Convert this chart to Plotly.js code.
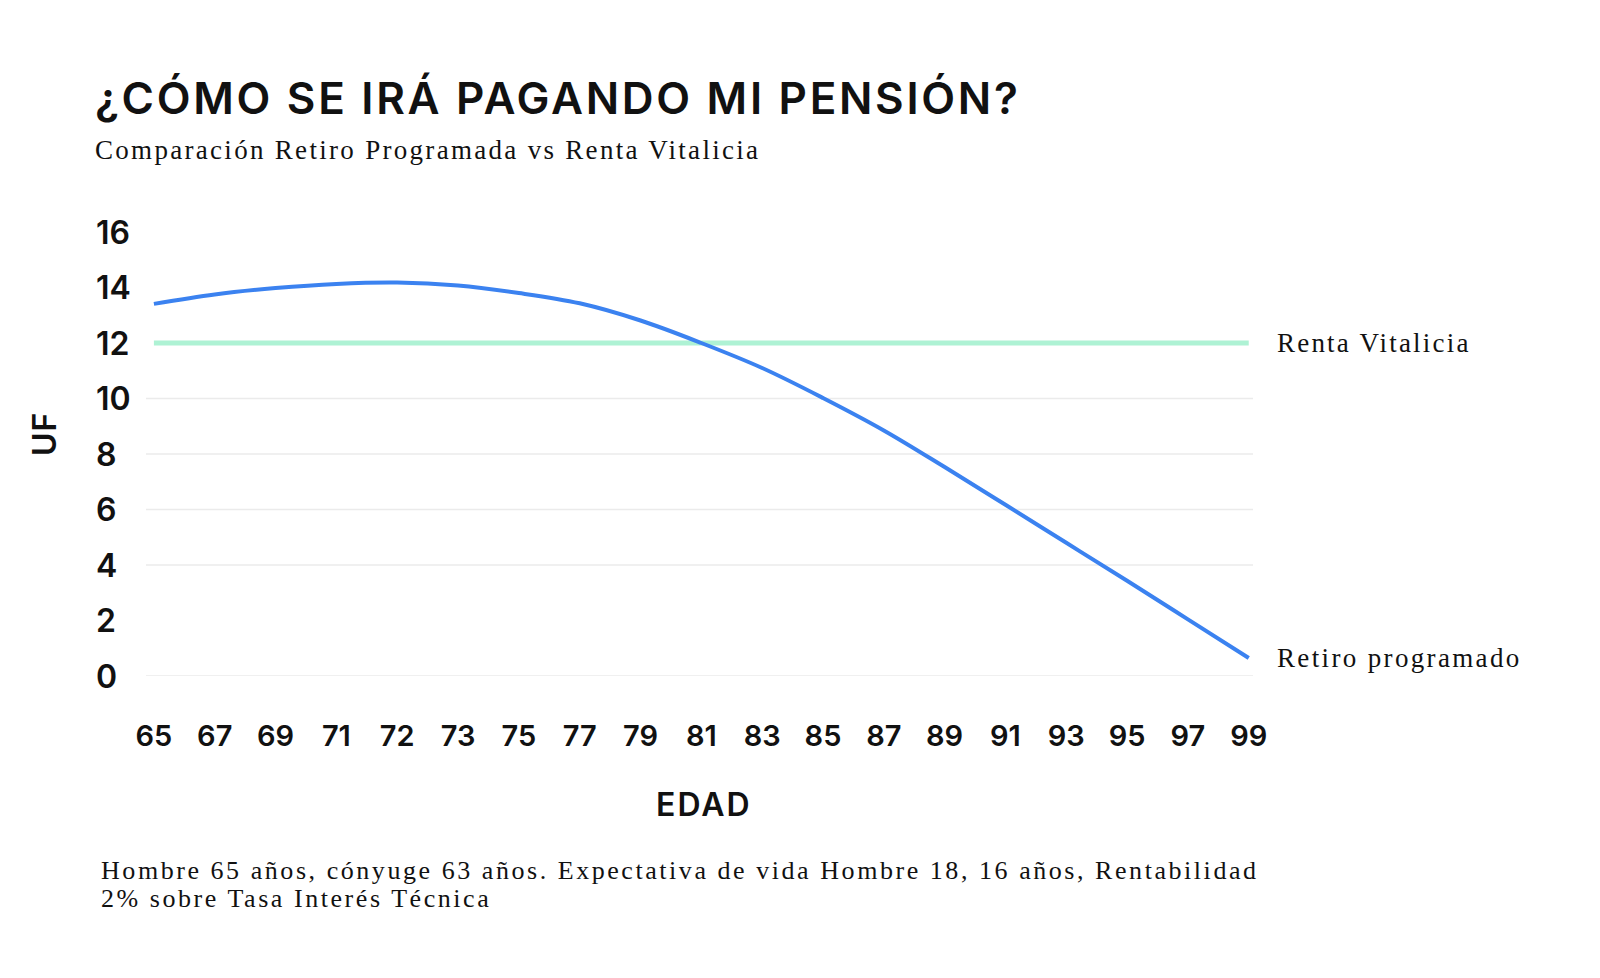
<!DOCTYPE html>
<html>
<head>
<meta charset="utf-8">
<script src="https://cdn.plot.ly/plotly-3.0.1.min.js"></script>
<style>
  html, body { margin: 0; padding: 0; background: #fff; }
  #chart { width: 1600px; height: 978px; }
</style>
</head>
<body>
<div id="chart"></div>
<script>
// edades mostradas en el eje X
var edades = ['65', '67', '69', '71', '72', '73', '75', '77', '79', '81',
              '83', '85', '87', '89', '91', '93', '95', '97', '99'];
// pensión en UF, retiro programado
var retiroProgramado = [13.41, 13.75, 13.98, 14.13, 14.18, 14.07, 13.8, 13.43, 12.81, 12.0,
                        11.1, 10.02, 8.85, 7.53, 6.17, 4.8, 3.43, 2.04, 0.65];
// renta vitalicia constante
var rentaVitalicia = [12, 12, 12, 12, 12, 12, 12, 12, 12, 12,
                      12, 12, 12, 12, 12, 12, 12, 12, 12];
var yTicks = [0, 2, 4, 6, 8, 10, 12, 14, 16];
var gridVals = [0, 4, 6, 8, 10];

var W = 1600, H = 978;
var L = 146, R = 347, T = 232, B = 302;
var pw = W - L - R, ph = H - T - B;
function px(x) { return (x - L) / pw; }
function py(y) { return (H - B - y) / ph; }

var sans = 'Inter, "Open Sans", sans-serif';
var serif = '"Liberation Serif", "DejaVu Serif", serif';

var titulo = '¿CÓMO SE IRÁ PAGANDO MI PENSIÓN?';
var subtitulo = 'Comparación Retiro Programada vs Renta Vitalicia';
var nota1 = 'Hombre 65 años, cónyuge 63 años. Expectativa de vida Hombre 18, 16 años, Rentabilidad';
var nota2 = '2% sobre Tasa Interés Técnica';

// espaciado de letras por texto
var espaciado = {};
espaciado[titulo] = '2.7px';
espaciado[subtitulo] = '2.3px';
espaciado[nota1] = '2.55px';
espaciado[nota2] = '2.55px';
espaciado['Renta Vitalicia'] = '2.2px';
espaciado['Retiro programado'] = '2.35px';
espaciado['EDAD'] = '2px';
espaciado['UF'] = '1px';

var traces = [
  {
    x: edades, y: rentaVitalicia, type: 'scatter', mode: 'lines',
    name: 'Renta Vitalicia',
    line: {color: '#aef2d4', width: 5},
    hoverinfo: 'x+y'
  },
  {
    x: edades, y: retiroProgramado, type: 'scatter', mode: 'lines',
    name: 'Retiro programado',
    line: {color: '#3b82f0', width: 4, shape: 'spline', smoothing: 1},
    hoverinfo: 'x+y'
  }
];

var shapes = gridVals.map(function(v) {
  return {type: 'line', xref: 'paper', yref: 'y', x0: 0, x1: 1, y0: v, y1: v,
          line: {color: '#ebebeb', width: 1.5}, layer: 'below'};
});

var annotations = yTicks.map(function(v) {
  return {xref: 'paper', yref: 'y', x: px(94), y: v, text: String(v),
          xanchor: 'left', yanchor: 'middle', showarrow: false,
          font: {family: sans, size: 32, color: '#111', weight: 600}};
});

function nota(texto, x, y, tam, fam, peso) {
  return {xref: 'paper', yref: 'paper', x: px(x), y: py(y), xanchor: 'left', yanchor: 'middle',
          align: 'left', text: texto, showarrow: false,
          font: {family: fam, size: tam, color: '#111', weight: peso || 400}};
}

annotations.push(
  nota(titulo, 93, 98, 44, sans, 600),
  nota(subtitulo, 93, 150, 27, serif),
  nota(nota1, 99, 870, 26, serif),
  nota(nota2, 99, 898, 26, serif),
  {xref: 'paper', yref: 'paper', x: px(44), y: py(434), xanchor: 'center', yanchor: 'middle',
   text: 'UF', textangle: -90, showarrow: false,
   font: {family: sans, size: 32, color: '#111', weight: 600}},
  {xref: 'paper', yref: 'paper', x: px(704), y: py(804), xanchor: 'center', yanchor: 'middle',
   text: 'EDAD', showarrow: false,
   font: {family: sans, size: 32, color: '#111', weight: 600}},
  {xref: 'paper', yref: 'y', x: px(1275), y: rentaVitalicia[rentaVitalicia.length - 1],
   xanchor: 'left', yanchor: 'middle', align: 'left', text: 'Renta Vitalicia', showarrow: false,
   font: {family: serif, size: 27, color: '#111'}},
  {xref: 'paper', yref: 'y', x: px(1275), y: retiroProgramado[retiroProgramado.length - 1],
   xanchor: 'left', yanchor: 'middle', align: 'left', text: 'Retiro programado', showarrow: false,
   font: {family: serif, size: 27, color: '#111'}}
);

var layout = {
  width: W, height: H,
  margin: {l: L, r: R, t: T, b: B},
  paper_bgcolor: '#fff', plot_bgcolor: '#fff',
  showlegend: false,
  xaxis: {
    type: 'category', range: [-0.13, 18.07],
    showgrid: false, zeroline: false, showline: false, ticks: '',
    ticklabelstandoff: 40,
    tickfont: {family: sans, size: 29, color: '#111', weight: 600}
  },
  yaxis: {
    range: [0, 16], showgrid: false, zeroline: false, showline: false,
    showticklabels: false, ticks: ''
  },
  shapes: shapes,
  annotations: annotations
};

Plotly.newPlot('chart', traces, layout, {displayModeBar: false, staticPlot: true}).then(function() {
  document.querySelectorAll('.annotation-text').forEach(function(t) {
    var s = espaciado[t.textContent];
    if (s) t.style.letterSpacing = s;
  });
});
</script>
</body>
</html>
